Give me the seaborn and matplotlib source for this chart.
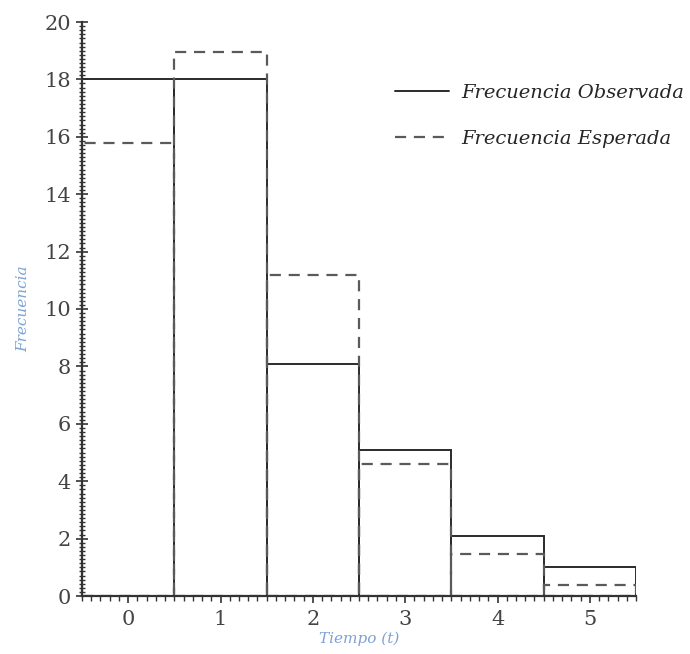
import numpy as np
import pandas as pd
import seaborn as sns
import matplotlib
matplotlib.use("Agg")
import matplotlib.pyplot as plt
from matplotlib.lines import Line2D
from matplotlib.ticker import MultipleLocator

# Data
tiempo = [0, 1, 2, 3, 4, 5]
frec_observada = [18, 18, 8.1, 5.1, 2.1, 1.0]
frec_esperada = [15.8, 18.95, 11.2, 4.6, 1.45, 0.38]

df = pd.DataFrame({"t": tiempo, "obs": frec_observada, "esp": frec_esperada})

sns.set_style("white")
plt.rcParams["font.family"] = ["DejaVu Serif"]

fig = plt.figure(figsize=(6.9, 6.54), dpi=100)
ax = fig.add_axes([82 / 690, 1 - 596 / 654, (636 - 82) / 690, (596 - 22) / 654])

line_col = "#2b2b2b"
dash_col = "#5a5a5a"
dash_style = (0, (5, 3.5))

sns.histplot(data=df, x="t", weights="obs", discrete=True, fill=False,
             color=line_col, linewidth=1.4, ax=ax)
sns.histplot(data=df, x="t", weights="esp", discrete=True, fill=False,
             color=dash_col, linewidth=1.6, linestyle=dash_style, ax=ax)

ax.set_xlim(-0.5, 5.5)
ax.set_ylim(0, 20)

for side in ["top", "right"]:
    ax.spines[side].set_visible(False)
for side in ["left", "bottom"]:
    ax.spines[side].set_color("#333333")
    ax.spines[side].set_linewidth(1.6)

ax.set_xticks(tiempo)
ax.set_yticks(np.arange(0, 21, 2))
ax.xaxis.set_minor_locator(MultipleLocator(0.1))
ax.yaxis.set_minor_locator(MultipleLocator(2 / 14))
ax.tick_params(axis="x", which="both", bottom=True)
ax.tick_params(axis="y", which="both", left=True)
ax.tick_params(axis="x", which="major", direction="out", length=5, width=1.2,
               color="#333333", labelsize=15, labelcolor="#444444", pad=5)
ax.tick_params(axis="x", which="minor", direction="out", length=3.5, width=1.0,
               color="#333333")
ax.tick_params(axis="y", which="major", direction="inout", length=8, width=1.2,
               color="#333333", labelsize=15, labelcolor="#444444", pad=4)
ax.tick_params(axis="y", which="minor", direction="inout", length=4.5, width=1.0,
               color="#333333")

label_col = "#7da2d6"
ax.set_xlabel("Tiempo (t)", fontsize=11, style="italic", color=label_col, labelpad=2)
ax.set_ylabel("Frecuencia", fontsize=11, style="italic", color=label_col, labelpad=10)

handles = [
    Line2D([], [], color=line_col, linewidth=1.4, linestyle="-"),
    Line2D([], [], color=dash_col, linewidth=1.6, linestyle=dash_style),
]
fig.legend(handles, ["Frecuencia Observada", "Frecuencia Esperada"],
           loc="upper left", bbox_to_anchor=(395 / 690, 1 - 84 / 654), frameon=False,
           prop={"family": "DejaVu Serif", "style": "italic", "size": 14},
           handlelength=2.8, labelspacing=1.45, handletextpad=0.6,
           borderpad=0, borderaxespad=0)

fig.savefig("out.png", dpi=100)
